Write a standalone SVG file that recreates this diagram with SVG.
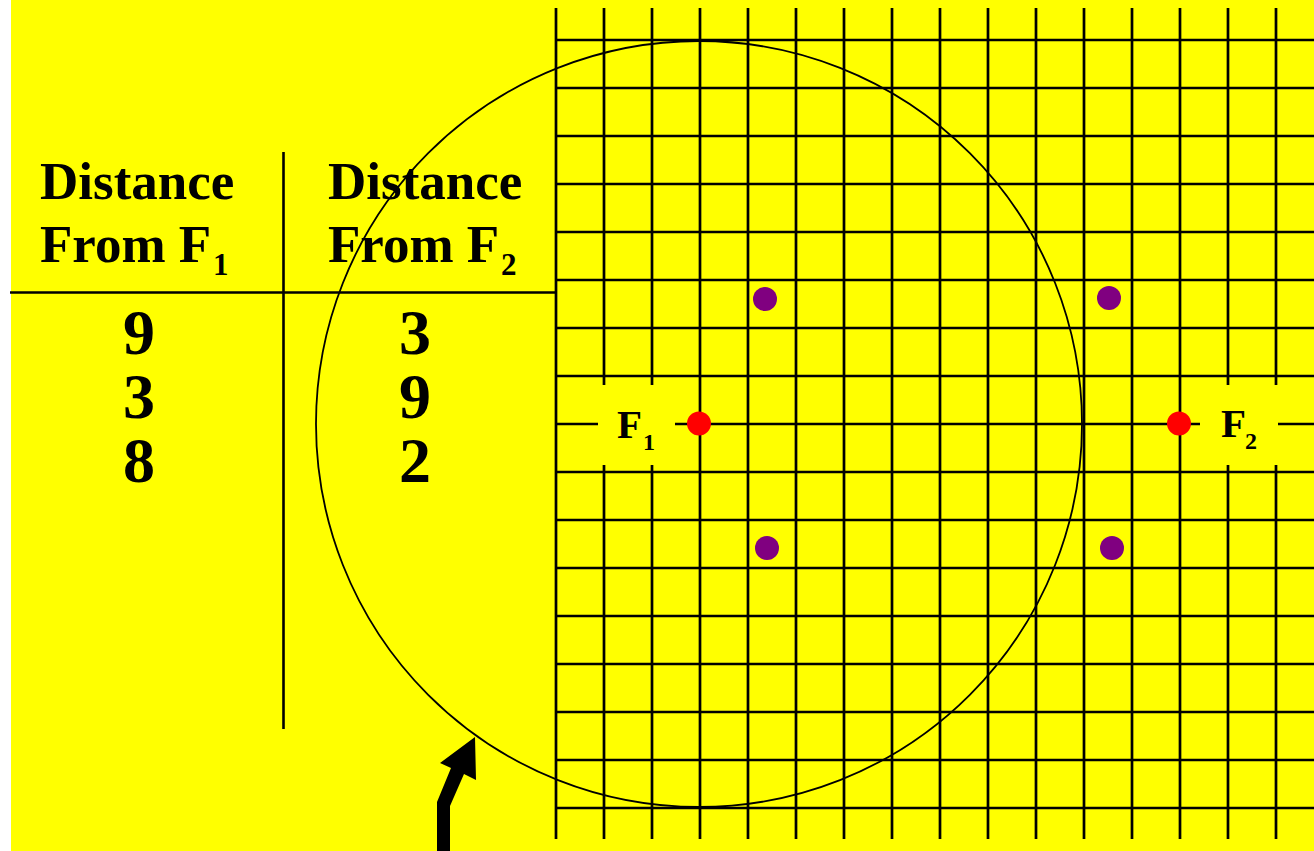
<svg xmlns="http://www.w3.org/2000/svg" width="1314" height="851" viewBox="0 0 1314 851">
<style>
.hdr{font-family:"Liberation Serif","Times New Roman",serif;font-weight:bold;font-size:53px;fill:#000}
.sub{font-family:"Liberation Serif","Times New Roman",serif;font-weight:bold;font-size:31px;fill:#000}
.num{font-family:"Liberation Serif","Times New Roman",serif;font-weight:bold;font-size:64px;fill:#000;text-anchor:middle}
.lbl{font-family:"Liberation Serif","Times New Roman",serif;font-weight:bold;font-size:41px;fill:#000}
.lsub{font-family:"Liberation Serif","Times New Roman",serif;font-weight:bold;font-size:24px;fill:#000}
.rule{stroke:#000;stroke-width:2.6;fill:none}
.grid line{stroke:#000;stroke-width:2.7}
.focus{fill:#ff0000}
.pt{fill:#800080}
</style>
<rect x="0" y="0" width="1314" height="851" fill="#ffffff"/>
<rect x="11" y="0" width="1303" height="851" fill="#ffff00"/>
<g id="table">
<line class="rule" x1="10" y1="292.5" x2="556" y2="292.5"/>
<line class="rule" x1="283.5" y1="152" x2="283.5" y2="729"/>
<text class="hdr" x="40" y="199">Distance</text>
<text class="hdr" x="40" y="261.7">From F</text>
<text class="sub" x="213" y="275">1</text>
<text class="hdr" x="328" y="199">Distance</text>
<text class="hdr" x="328" y="261.7">From F</text>
<text class="sub" x="501" y="275">2</text>
<text class="num" x="139" y="354">9</text>
<text class="num" x="139" y="418">3</text>
<text class="num" x="139" y="482">8</text>
<text class="num" x="415" y="354">3</text>
<text class="num" x="415" y="418">9</text>
<text class="num" x="415" y="482">2</text>
</g>
<g id="grid" class="grid">
<line x1="556" y1="8" x2="556" y2="839"/>
<line x1="604" y1="8" x2="604" y2="839"/>
<line x1="652" y1="8" x2="652" y2="839"/>
<line x1="700" y1="8" x2="700" y2="839"/>
<line x1="748" y1="8" x2="748" y2="839"/>
<line x1="796" y1="8" x2="796" y2="839"/>
<line x1="844" y1="8" x2="844" y2="839"/>
<line x1="892" y1="8" x2="892" y2="839"/>
<line x1="940" y1="8" x2="940" y2="839"/>
<line x1="988" y1="8" x2="988" y2="839"/>
<line x1="1036" y1="8" x2="1036" y2="839"/>
<line x1="1084" y1="8" x2="1084" y2="839"/>
<line x1="1132" y1="8" x2="1132" y2="839"/>
<line x1="1180" y1="8" x2="1180" y2="839"/>
<line x1="1228" y1="8" x2="1228" y2="839"/>
<line x1="1276" y1="8" x2="1276" y2="839"/>
<line x1="556" y1="40" x2="1314" y2="40"/>
<line x1="556" y1="88" x2="1314" y2="88"/>
<line x1="556" y1="136" x2="1314" y2="136"/>
<line x1="556" y1="184" x2="1314" y2="184"/>
<line x1="556" y1="232" x2="1314" y2="232"/>
<line x1="556" y1="280" x2="1314" y2="280"/>
<line x1="556" y1="328" x2="1314" y2="328"/>
<line x1="556" y1="376" x2="1314" y2="376"/>
<line x1="556" y1="424" x2="1314" y2="424"/>
<line x1="556" y1="472" x2="1314" y2="472"/>
<line x1="556" y1="520" x2="1314" y2="520"/>
<line x1="556" y1="568" x2="1314" y2="568"/>
<line x1="556" y1="616" x2="1314" y2="616"/>
<line x1="556" y1="664" x2="1314" y2="664"/>
<line x1="556" y1="712" x2="1314" y2="712"/>
<line x1="556" y1="760" x2="1314" y2="760"/>
<line x1="556" y1="808" x2="1314" y2="808"/>
</g>
<g id="circle">
<circle cx="699" cy="424" r="383" fill="none" stroke="#000" stroke-width="1.8"/>
</g>
<g id="label-f1">
<rect x="598" y="385" width="77" height="80" fill="#ffff00"/>
<text class="lbl" x="617" y="438">F</text>
<text class="lsub" x="643" y="449.5">1</text>
</g>
<g id="label-f2">
<rect x="1200" y="385" width="78" height="80" fill="#ffff00"/>
<text class="lbl" x="1221" y="437">F</text>
<text class="lsub" x="1245" y="448.5">2</text>
</g>
<g id="foci">
<circle class="focus" cx="699" cy="423.5" r="12"/>
<circle class="focus" cx="1179" cy="423.5" r="12"/>
</g>
<g id="points">
<circle class="pt" cx="765" cy="299" r="12"/>
<circle class="pt" cx="1109" cy="298" r="12"/>
<circle class="pt" cx="767" cy="548" r="12"/>
<circle class="pt" cx="1112" cy="548" r="12"/>
</g>
<g id="connectors">
<polygon points="437,851 437,802 451,768 440,763 475,737 476,780 464,774 450,806 450,851" fill="#000"/>
</g>
</svg>
